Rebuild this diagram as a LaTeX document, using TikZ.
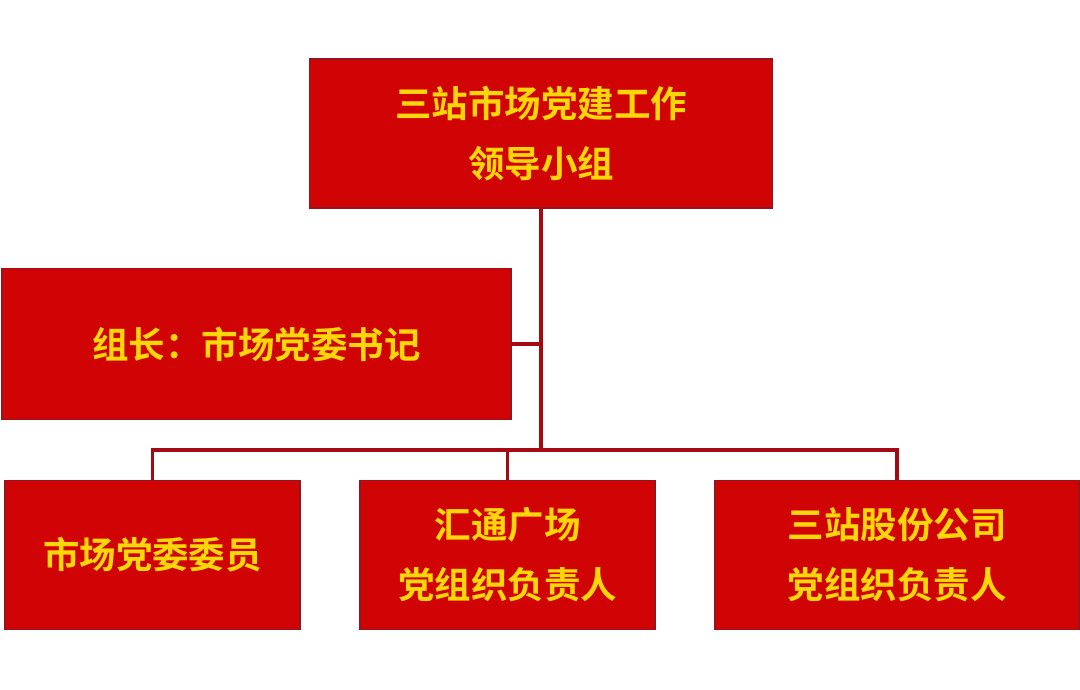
\documentclass[tikz,border=0pt]{standalone}
\usepackage{fontspec}
\newfontfamily\cjk{Noto Sans CJK SC}[BoldFont={* Bold}]
\definecolor{boxred}{RGB}{208,4,4}
\definecolor{boxedge}{RGB}{150,20,30}
\definecolor{linered}{RGB}{165,10,20}
\definecolor{txtyellow}{RGB}{255,214,10}
\begin{document}
\begin{tikzpicture}[x=1pt,y=-1pt,
  orgbox/.style={draw=boxedge,line width=1.6pt,fill=boxred,inner sep=0pt,
    text=txtyellow,font=\cjk\bfseries\fontsize{36.5}{60}\selectfont,align=center},
  conn/.style={draw=linered,line width=3.4pt}]
\useasboundingbox (0,0) rectangle (1080,689);
\node[orgbox,minimum width=463pt,minimum height=149pt] (top) at (541,133.5) {三站市场党建工作\\领导小组};
\node[orgbox,minimum width=509pt,minimum height=151pt] (lead) at (256.5,344) {组长：市场党委书记};
\node[orgbox,minimum width=295pt,minimum height=149pt] (b1) at (152.5,555) {市场党委委员};
\node[orgbox,minimum width=295pt,minimum height=149pt] (b2) at (507.5,555) {汇通广场\\党组织负责人};
\node[orgbox,minimum width=364pt,minimum height=149pt] (b3) at (897,555) {三站股份公司\\党组织负责人};
\coordinate (hub) at (top.south |- 0,450);
\draw[conn] (top.south) -- (hub);
\draw[conn] (lead.east) -- (lead.east -| top.south);
\draw[conn] (b1.north) -- (b1.north |- hub) -- (b3.north |- hub) -- (b3.north);
\draw[conn] (b2.north) -- (b2.north |- hub);
\end{tikzpicture}
\end{document}
